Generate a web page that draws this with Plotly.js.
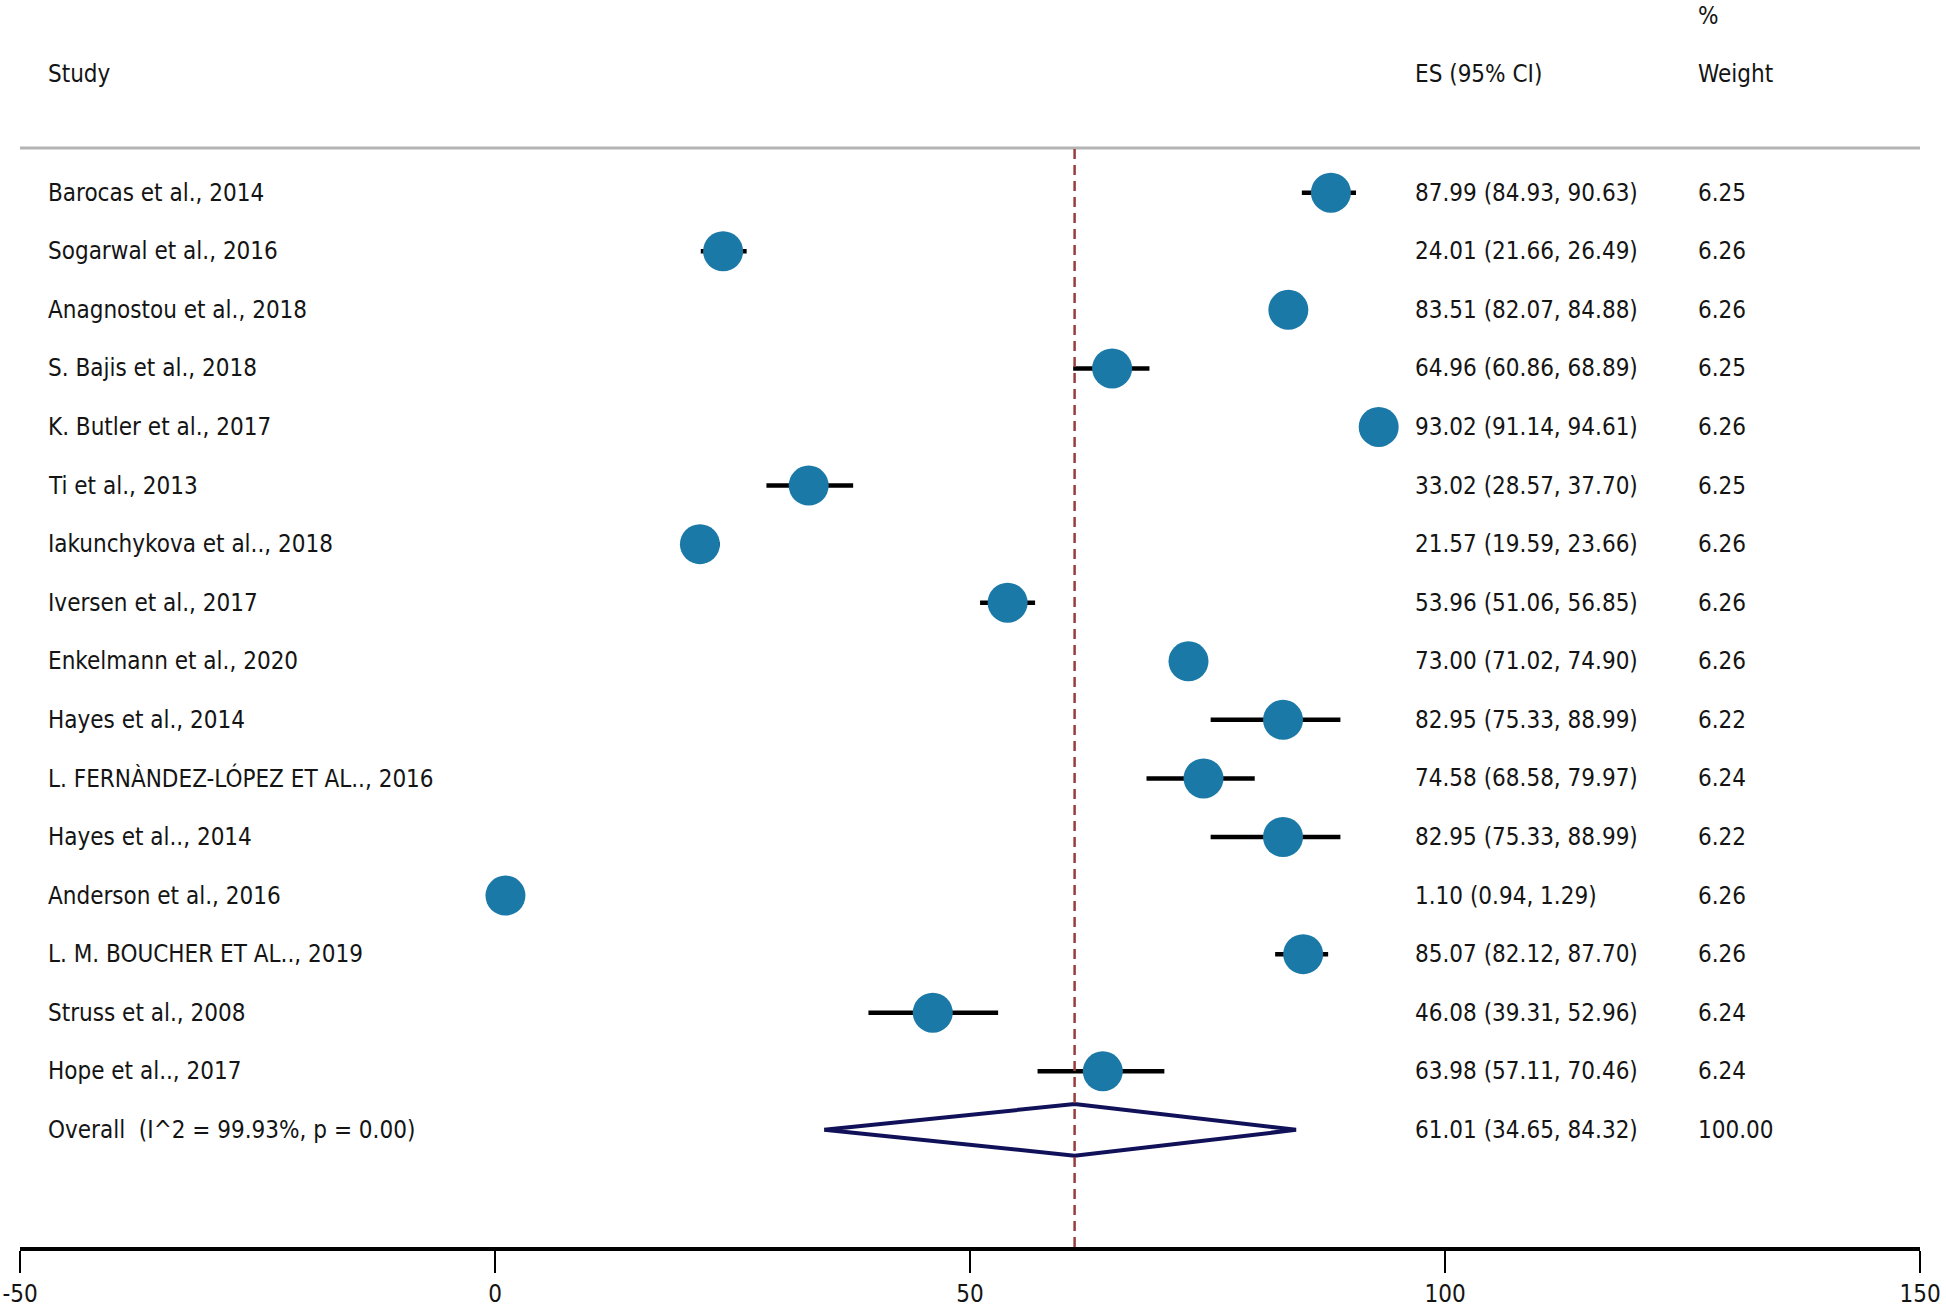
<!DOCTYPE html>
<html>
<head>
<meta charset="utf-8">
<script src="https://cdn.plot.ly/plotly-3.0.1.min.js"></script>
<style>html,body{margin:0;padding:0;background:#fff;}</style>
</head>
<body>
<div id="chart" style="width:1946px;height:1312px;"></div>
<script>
const studies = [
  "Barocas et al., 2014",
  "Sogarwal et al., 2016",
  "Anagnostou et al., 2018",
  "S. Bajis et al., 2018",
  "K. Butler et al., 2017",
  "Ti et al., 2013",
  "Iakunchykova et al.., 2018",
  "Iversen et al., 2017",
  "Enkelmann et al., 2020",
  "Hayes et al., 2014",
  "L. FERNÀNDEZ-LÓPEZ ET AL.., 2016",
  "Hayes et al.., 2014",
  "Anderson et al., 2016",
  "L. M. BOUCHER ET AL.., 2019",
  "Struss et al., 2008",
  "Hope et al.., 2017"
];
const es = [87.99, 24.01, 83.51, 64.96, 93.02, 33.02, 21.57, 53.96, 73.00, 82.95, 74.58, 82.95, 1.10, 85.07, 46.08, 63.98];
const lo = [84.93, 21.66, 82.07, 60.86, 91.14, 28.57, 19.59, 51.06, 71.02, 75.33, 68.58, 75.33, 0.94, 82.12, 39.31, 57.11];
const hi = [90.63, 26.49, 84.88, 68.89, 94.61, 37.70, 23.66, 56.85, 74.90, 88.99, 79.97, 88.99, 1.29, 87.70, 52.96, 70.46];
const weights = [6.25, 6.26, 6.26, 6.25, 6.26, 6.25, 6.26, 6.26, 6.26, 6.22, 6.24, 6.22, 6.26, 6.26, 6.24, 6.24];

const overallLabel = "Overall  (I^2 = 99.93%, p = 0.00)";
const overallEs = 61.01;
const overallLo = 34.65;
const overallHi = 84.32;
const overallWeight = 100.00;

const headers = {study: "Study", es: "ES (95% CI)", pct: "%", weight: "Weight"};
const xTicks = [-50, 0, 50, 100, 150];

const FONT = "'DejaVu Sans Condensed', Tahoma, 'DejaVu Sans', sans-serif";
const FS = 24;
const TXT = "#141414";

const rows = studies.map((_, i) => i);
const overallRow = studies.length;

const colStudy = 0.0138, colEs = 0.7333, colWt = 0.8822;

const traces = [
  {
    type: "scatter", mode: "markers",
    x: es, y: rows,
    error_x: {type: "data", symmetric: false,
      array: es.map((v, i) => hi[i] - v),
      arrayminus: es.map((v, i) => v - lo[i]),
      color: "#000", thickness: 4.5, width: 0},
    marker: {size: 40, color: "#1b79a8", line: {width: 0}},
    hoverinfo: "skip", showlegend: false, cliponaxis: false
  },
  {
    type: "scatter", mode: "lines",
    x: [overallLo, overallEs, overallHi, overallEs, overallLo],
    y: [overallRow, overallRow - 0.44, overallRow, overallRow + 0.44, overallRow],
    line: {color: "#11115a", width: 4},
    hoverinfo: "skip", showlegend: false
  }
];

const annotations = [];
function addText(text, xp, y, yref) {
  annotations.push({text: text, x: xp, xref: "paper", y: y, yref: yref || "y",
    xanchor: "left", yanchor: "middle", showarrow: false,
    font: {family: FONT, size: FS, color: TXT}});
}
studies.forEach((s, i) => {
  addText(s, colStudy, i);
  addText(es[i].toFixed(2) + " (" + lo[i].toFixed(2) + ", " + hi[i].toFixed(2) + ")", colEs, i);
  addText(weights[i].toFixed(2), colWt, i);
});
addText(overallLabel, colStudy, overallRow);
addText(overallEs.toFixed(2) + " (" + overallLo.toFixed(2) + ", " + overallHi.toFixed(2) + ")", colEs, overallRow);
addText(overallWeight.toFixed(2), colWt, overallRow);
addText(headers.study, colStudy, 1.0669, "paper");
addText(headers.es, colEs, 1.0669, "paper");
addText(headers.weight, colWt, 1.0669, "paper");
addText(headers.pct, colWt, 1.1201, "paper");

const layout = {
  width: 1946, height: 1312,
  margin: {l: 20, r: 26, t: 148, b: 65},
  paper_bgcolor: "#fff", plot_bgcolor: "#fff",
  xaxis: {
    range: [-50, 150], tickvals: xTicks, ticktext: xTicks.map(String),
    showgrid: false, zeroline: false, showline: true, linecolor: "#000", linewidth: 4,
    ticks: "outside", ticklen: 22, tickwidth: 2, tickcolor: "#000",
    tickfont: {family: FONT, size: FS, color: TXT}, fixedrange: true
  },
  yaxis: {range: [18.0, -0.763], visible: false, fixedrange: true},
  shapes: [
    {type: "line", xref: "paper", yref: "paper", x0: 0, x1: 1, y0: 1, y1: 1,
     line: {color: "#b4b4b4", width: 3}},
    {type: "line", xref: "x", yref: "paper", x0: overallEs, x1: overallEs, y0: 0, y1: 1,
     line: {color: "#9a3c3c", width: 2.5, dash: "10px,6px"}, layer: "above"}
  ],
  annotations: annotations,
  showlegend: false
};

Plotly.newPlot("chart", traces, layout, {displayModeBar: false, staticPlot: true});
</script>
</body>
</html>
